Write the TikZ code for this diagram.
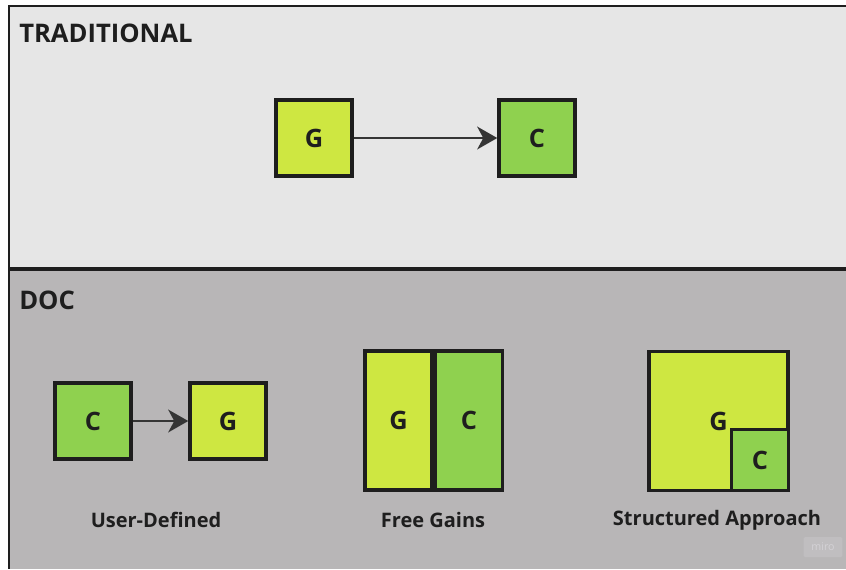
\documentclass[tikz,border=0pt]{standalone}
\usepackage{fontspec}
\setmainfont{Open Sans}
\usetikzlibrary{arrows.meta}
\definecolor{lime}{RGB}{206,231,65}
\definecolor{leaf}{RGB}{143,209,79}
\definecolor{topbg}{RGB}{230,230,230}
\definecolor{botbg}{RGB}{184,182,183}
\definecolor{ink}{RGB}{30,30,30}
\definecolor{miroback}{RGB}{192,190,192}
\definecolor{mirotext}{RGB}{212,210,214}

\begin{document}
\begin{tikzpicture}[x=0.75pt,y=-0.75pt,
  box/.style={draw=ink,line width=2.6pt,inner sep=0pt,text=ink,font=\fontsize{19}{22}\selectfont\bfseries},
  sq/.style={box,minimum width=57pt,minimum height=57pt},
  lbl/.style={text=ink,font=\fontsize{15}{18}\selectfont\bfseries},
  title/.style={anchor=west,inner sep=0pt,text=ink,font=\fontsize{19.2}{23}\selectfont\bfseries},
  link/.style={draw=ink!90,line width=2.2pt,-{Stealth[length=15pt,width=17pt,inset=4.5pt]}}]
  \useasboundingbox (0,0) rectangle (846,569);

  % panels
  \fill[topbg] (9,6) rectangle (846,269);
  \fill[botbg] (9,269) rectangle (846,569);
  \draw[ink,line width=1.5pt] (846,6) -- (9,6) -- (9,569);
  \draw[ink,line width=2.4pt] (9,269) -- (846,269);

  \node (trad) at (19,33) [title] {TRADITIONAL};
  \node (doc) at (19,300) [title] {DOC};

  % traditional
  \node (g0) at (314,138) [sq,fill=lime] {G};
  \node (c0) at (537,138) [sq,fill=leaf] {C};
  \draw[link] (g0) to (c0);

  % user-defined
  \node (c1) at (93,421) [sq,fill=leaf] {C};
  \node (g1) at (228,421) [sq,fill=lime] {G};
  \draw[link] (c1) to (g1);

  % free gains
  \node (g2) at (398.5,420.5) [box,fill=lime,minimum width=50pt,minimum height=104pt] {G};
  \node (c2) at (469,420.5) [box,fill=leaf,minimum width=50pt,minimum height=104pt] {C};

  % structured approach
  \node (g3) at (718.5,421) [box,fill=lime,minimum width=104pt,minimum height=104pt] {G};
  \node (c3) at (760,460) [box,fill=leaf,minimum width=42.5pt,minimum height=45.5pt] {C};

  \node (ud) at (156,520) [lbl] {User-Defined};
  \node (fg) at (433,520) [lbl] {Free Gains};
  \node (sa) at (717,520) [lbl] {Structured Approach};

  \node (miro) at (823,547) [fill=miroback,rounded corners=1pt,minimum width=29pt,minimum height=15pt,inner sep=0pt,text=mirotext,font=\fontsize{8}{9}\selectfont] {miro};
\end{tikzpicture}
\end{document}
